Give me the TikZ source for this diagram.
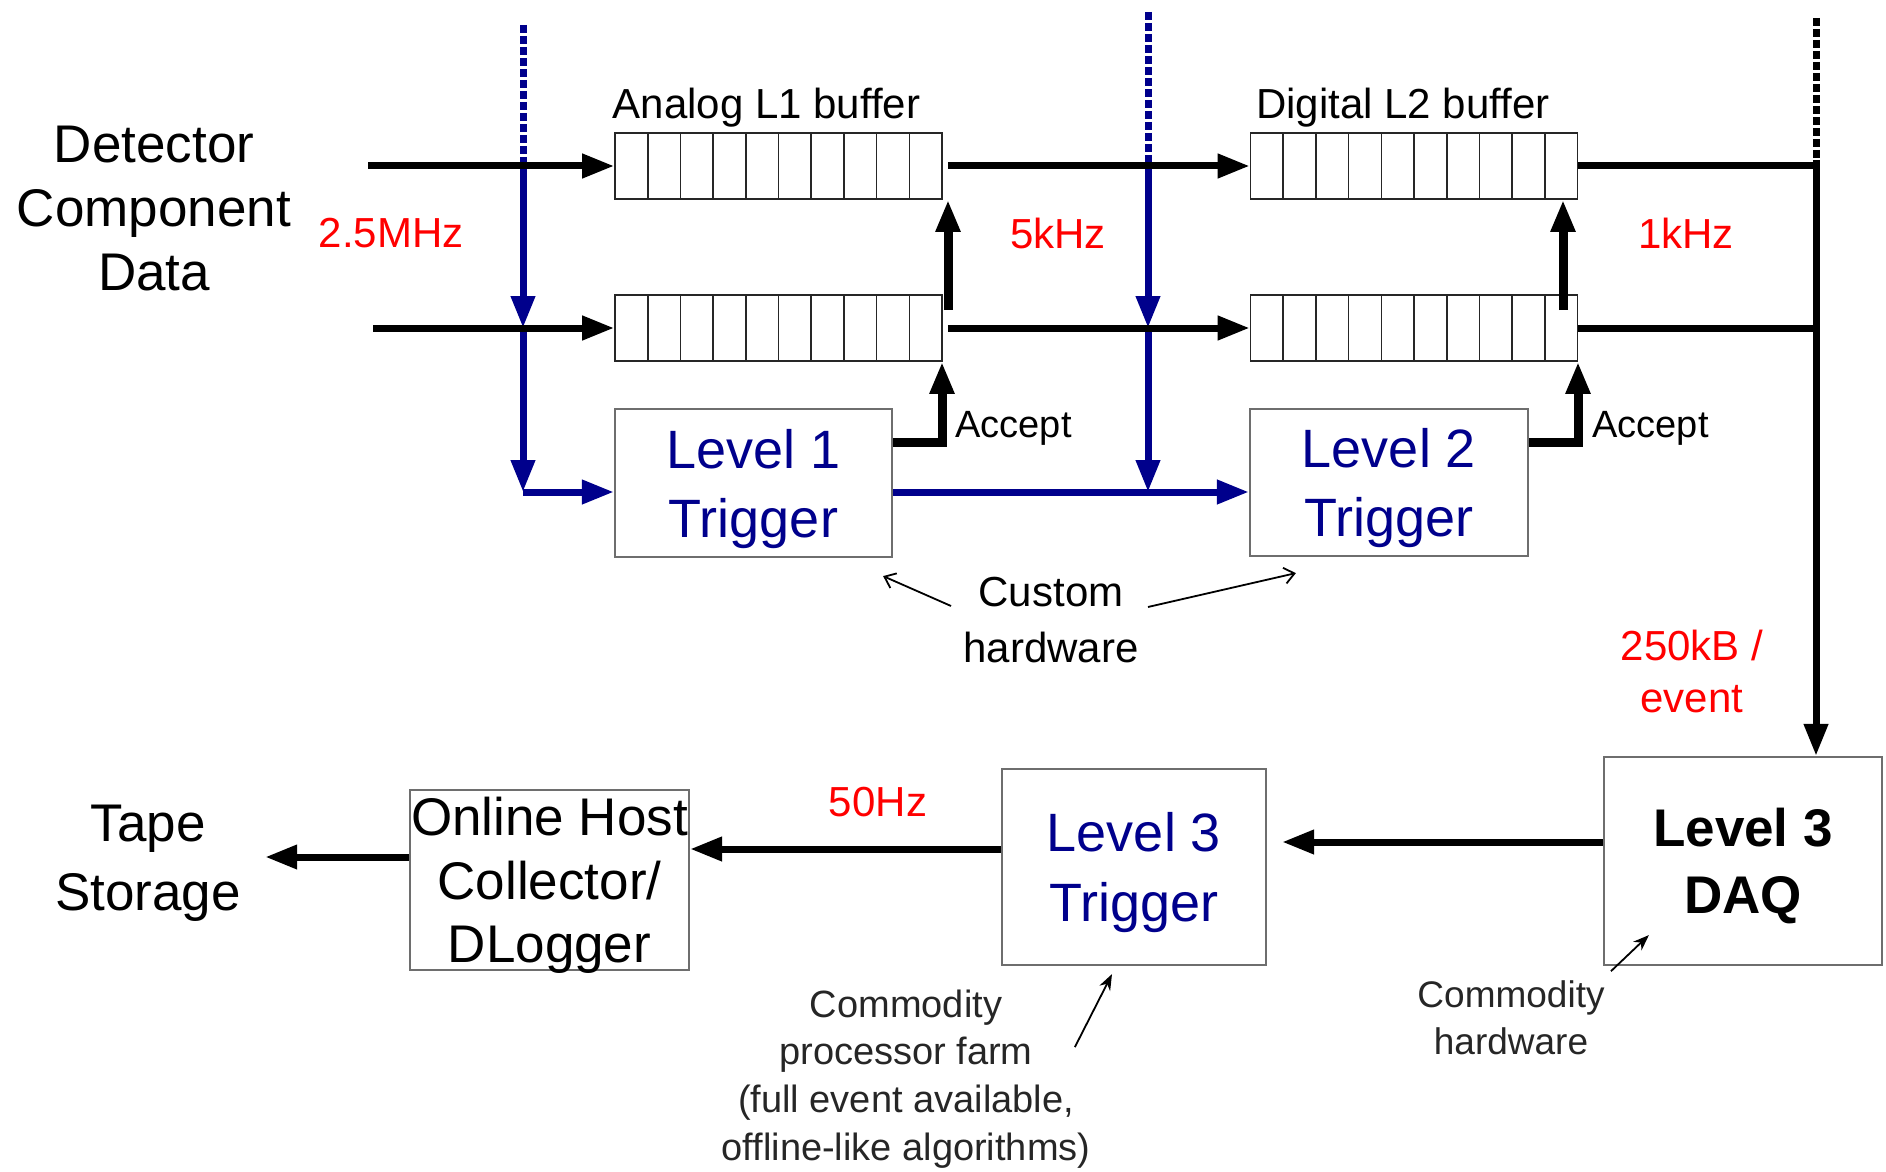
\documentclass[tikz,border=0pt]{standalone}
\usepackage{fontspec}
\setmainfont{Liberation Sans}
\usetikzlibrary{arrows.meta}
\definecolor{navy}{RGB}{0,0,140}
\definecolor{rd}{RGB}{255,0,0}
\definecolor{boxgray}{RGB}{110,110,110}
\tikzset{
  lbl/.style={inner sep=0pt, text depth=0pt, align=center},
  box/.style={draw=boxgray, line width=1.1pt, align=center, inner sep=0pt, text depth=0pt},
  buf/.style={draw=black!85, line width=0.8pt, minimum width=163.5pt, minimum height=33pt, inner sep=0pt,
    path picture={\foreach \k in {1,...,9}{\draw[line width=0.8pt, black!85] ([xshift=\k*16.35pt]path picture bounding box.south west) -- ([xshift=\k*16.35pt]path picture bounding box.north west);}}},
  fat/.style={line width=3.5pt, line join=miter, -{Triangle[length=16pt,width=11.5pt]}},
  acc/.style={fat, line width=4.5pt},
  bar/.style={line width=3.5pt},
  bluefat/.style={fat, draw=navy, fill=navy},
  bluedot/.style={line width=3.5pt, draw=navy, dash pattern=on 4pt off 1.5pt},
  blackdot/.style={line width=3.5pt, dash pattern=on 4pt off 1.5pt},
  thinarr/.style={line width=0.9pt, -{Straight Barb[length=5pt,width=8pt]}},
  commarr/.style={line width=0.9pt, -{Stealth[length=8pt,width=6pt]}},
}
\begin{document}
\begin{tikzpicture}[x=0.5pt,y=-0.5pt]
\useasboundingbox (0,0) rectangle (1886,1172);

% buffers
\node[buf] (a1) at (778.5,166) {};
\node[buf] (a2) at (778.5,328) {};
\node[buf] (d1) at (1414,166) {};
\node[buf] (d2) at (1414,328) {};

% boxes
\node[box, minimum width=138.5pt, minimum height=74pt, text=navy, font=\fontsize{27}{34.5}\selectfont] (L1) at (753.5,483) {Level 1\\Trigger};
\node[box, minimum width=139pt, minimum height=73.5pt, text=navy, font=\fontsize{27}{34.5}\selectfont] (L2) at (1389,482.5) {Level 2\\Trigger};
\node[box, minimum width=132pt, minimum height=98pt, text=navy, font=\fontsize{27}{35}\selectfont] (L3T) at (1134,867) {Level 3\\Trigger};
\node[box, minimum width=139pt, minimum height=104pt, font=\fontsize{26.5}{33.5}\selectfont\bfseries] (DAQ) at (1743,861) {Level 3\\DAQ};
\node[box, minimum width=139.5pt, minimum height=90pt, font=\fontsize{26.5}{31.75}\selectfont] (OH) at (549.5,880) {Online Host\\Collector/\\DLogger};

% labels
\node[lbl, font=\fontsize{21}{25}\selectfont] (alab) at (766.5,103) {Analog L1 buffer};
\node[lbl, font=\fontsize{21}{25}\selectfont] (dlab) at (1403,103) {Digital L2 buffer};
\node[lbl, font=\fontsize{26.5}{32}\selectfont] (det) at (154,208) {Detector\\Component\\Data};
\node[lbl, text=rd, font=\fontsize{21}{25}\selectfont] (r1) at (391,233) {2.5MHz};
\node[lbl, text=rd, font=\fontsize{21}{25}\selectfont] (r2) at (1058,233) {5kHz};
\node[lbl, text=rd, font=\fontsize{21}{25}\selectfont] (r3) at (1686,233) {1kHz};
\node[lbl, anchor=west, font=\fontsize{19}{23}\selectfont] (acc1l) at (955,424) {Accept};
\node[lbl, anchor=west, font=\fontsize{19}{23}\selectfont] (acc2l) at (1592,424) {Accept};
\node[lbl, font=\fontsize{21}{28}\selectfont] (cust) at (1051,620) {Custom\\hardware};
\node[lbl, text=rd, font=\fontsize{21}{26}\selectfont] (sz) at (1692,671) {250kB /\\event};
\node[lbl, text=rd, font=\fontsize{21}{25}\selectfont] (r4) at (878,802) {50Hz};
\node[lbl, font=\fontsize{26.5}{34.5}\selectfont] (tape) at (148,857.5) {Tape\\Storage};
\node[lbl, text=black!85, font=\fontsize{19}{23.9}\selectfont] (farm) at (906,1075) {Commodity\\processor farm\\(full event available,\\offline-like algorithms)};
\node[lbl, text=black!85, font=\fontsize{18.5}{23.5}\selectfont] (chw) at (1511,1018) {Commodity\\hardware};

% coordinates
\coordinate (in1) at (368,166);
\coordinate (in2) at (373,328);
\coordinate (b1top) at (523,25);
\coordinate (b1mid) at (523,158);
\coordinate (bc) at (523,492);
\coordinate (b2top) at (1148,12);
\coordinate (b2mid) at (1148,159);
\coordinate (vtop) at (1816,18);
\coordinate (vmid) at (1816,160);
\coordinate (acc1) at (942,442);
\coordinate (up1) at (948,310);
\coordinate (acc2) at (1578,442);
\coordinate (up2) at (1563,310);

% blue trigger paths
\draw[bluedot] (b1top) -- (b1mid);
\draw[bluefat] (b1mid) -- (b1mid |- a2.west);
\draw[bluefat] (b1mid |- a2.west) -- (bc);
\draw[bluefat] (bc) -- (bc -| L1.west);
\draw[bluedot] (b2top) -- (b2mid);
\draw[bluefat] (b2mid) -- (b2mid |- a2.east);
\draw[bluefat] (b2mid |- a2.east) -- (b2mid |- bc);
\draw[bluefat] (L1.east |- bc) -- (L2.west |- bc);

% data paths
\draw[fat] (in1) -- (a1.west);
\draw[fat] (in2) -- (a2.west);
\draw[fat] ([xshift=2.5pt]a1.east) -- (d1.west);
\draw[fat] ([xshift=2.5pt]a2.east) -- (d2.west);
\draw[bar] (d1.east) -- (d1.east -| vmid);
\draw[bar] (d2.east) -- (d2.east -| vmid);
\draw[blackdot] (vtop) -- (vmid);
\draw[fat] (vmid) -- (vmid |- DAQ.north);

% accept paths
\draw[acc] (L1.east |- acc1) -- (acc1) -- (acc1 |- a2.south);
\draw[acc] (up1) -- (up1 |- a1.south);
\draw[acc] (L2.east |- acc2) -- (acc2) -- (acc2 |- d2.south);
\draw[acc] (up2) -- (up2 |- d1.south);

% lower chain
\draw[fat, shorten >=7.5pt] ([yshift=9.5pt]DAQ.west) -- ([yshift=9.5pt]DAQ.west -| L3T.east);
\draw[fat] ([yshift=9pt]L3T.west) -- ([yshift=9pt]L3T.west -| OH.east);
\draw[fat, shorten >=12pt] ([yshift=11.5pt]OH.west) -- ([yshift=11.5pt]OH.west -| tape.east);

% annotation arrows
\draw[thinarr] ([shift={(-12,-14)}]cust.west) -- ([shift={(-10,18)}]L1.south east);
\draw[thinarr] ([shift={(9,-13)}]cust.east) -- ([shift={(47,16)}]L2.south west);
\draw[commarr] ([shift={(-16,58)}]farm.north east) -- ([shift={(-22,8)}]L3T.south);
\draw[commarr] ([shift={(6,-9.5)}]chw.north east) -- ([shift={(46,-31)}]DAQ.south west);
\end{tikzpicture}
\end{document}
